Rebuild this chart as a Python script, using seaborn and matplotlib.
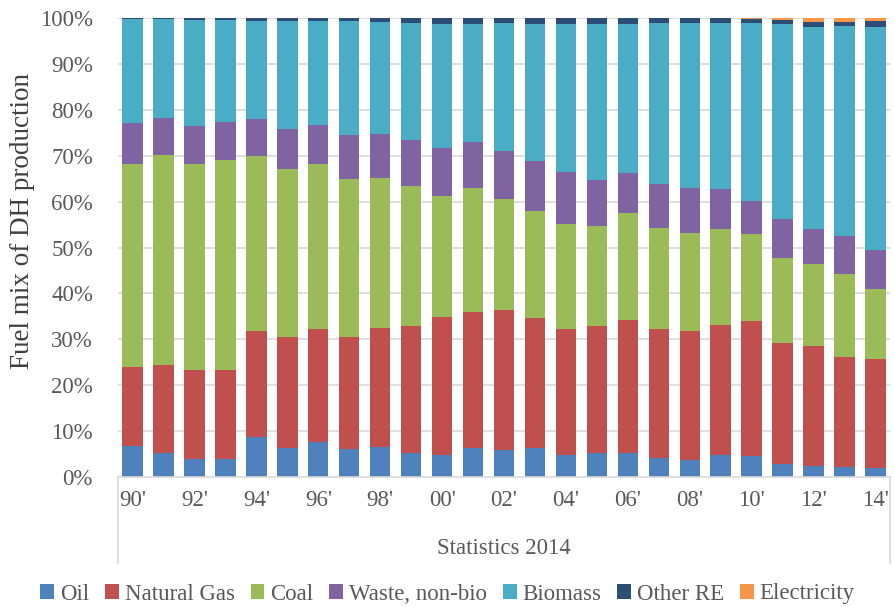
import numpy as np
import pandas as pd
import matplotlib
matplotlib.use("Agg")
import matplotlib.pyplot as plt
import seaborn as sns
from matplotlib.patches import Patch

years = [str(y) for y in range(1990, 2015)]
tick_labels = ["90'", "92'", "94'", "96'", "98'", "00'", "02'", "04'", "06'", "08'", "10'", "12'", "14'"]

oil = [6.7, 5.2, 3.9, 3.9, 8.7, 6.3, 7.6, 6.0, 6.5, 5.2, 4.8, 6.3, 5.8, 6.4, 4.9, 5.2, 5.2, 4.1, 3.8, 4.9, 4.5, 2.8, 2.5, 2.1, 2.0]
natural_gas = [17.3, 19.1, 19.4, 19.5, 23.1, 24.1, 24.7, 24.6, 26.0, 27.6, 30.0, 29.7, 30.5, 28.3, 27.4, 27.8, 29.1, 28.2, 28.1, 28.3, 29.4, 26.3, 26.1, 24.1, 23.6]
coal = [44.2, 45.8, 44.9, 45.7, 38.1, 36.8, 36.0, 34.4, 32.6, 30.6, 26.5, 26.9, 24.3, 23.3, 22.9, 21.6, 23.3, 21.9, 21.2, 20.8, 19.0, 18.6, 17.8, 18.1, 15.3]
waste = [8.9, 8.2, 8.3, 8.2, 8.1, 8.6, 8.3, 9.5, 9.6, 10.0, 10.4, 10.0, 10.5, 10.8, 11.3, 10.2, 8.6, 9.7, 9.8, 8.7, 7.3, 8.5, 7.7, 8.1, 8.6]
biomass = [22.7, 21.4, 23.1, 22.2, 21.4, 23.5, 22.7, 24.8, 24.4, 25.6, 27.1, 25.9, 27.9, 30.0, 32.3, 34.0, 32.6, 35.1, 36.1, 36.3, 38.8, 42.5, 44.0, 45.9, 48.6]
other_re = [0.2, 0.3, 0.4, 0.5, 0.5, 0.6, 0.7, 0.7, 0.9, 1.0, 1.1, 1.2, 1.0, 1.2, 1.1, 1.1, 1.1, 0.9, 0.9, 0.9, 0.8, 0.9, 1.0, 0.9, 1.3]
electricity = [0, 0, 0, 0, 0.1, 0.1, 0, 0, 0, 0, 0.1, 0, 0, 0, 0.1, 0.1, 0.1, 0.1, 0.1, 0.1, 0.2, 0.4, 0.9, 0.8, 0.6]

series = ["Oil", "Natural Gas", "Coal", "Waste, non-bio", "Biomass", "Other RE", "Electricity"]
values = [oil, natural_gas, coal, waste, biomass, other_re, electricity]
colors = ["#4F81BD", "#C0504D", "#9BBB59", "#8064A2", "#4BACC6", "#2C4D75", "#F79646"]

df = pd.DataFrame({name: vals for name, vals in zip(series, values)}, index=years)
cum = df.cumsum(axis=1)

sns.set_style("white")
plt.rcParams["font.family"] = ["Liberation Serif", "DejaVu Serif"]

fig = plt.figure(figsize=(8.95, 6.07), dpi=100)
ax = fig.add_axes([118/895, 1 - 477/607, (890 - 118)/895, (477 - 18)/607])

for yv in np.arange(10, 101, 10):
    ax.axhline(yv, color="#D9D9D9", lw=1.2, zorder=0)

# draw cumulative bars from top series down so they stack
for name, col in reversed(list(zip(series, colors))):
    d = pd.DataFrame({"year": years, "val": cum[name].values})
    sns.barplot(data=d, x="year", y="val", color=col, width=0.66,
                saturation=1, ax=ax, zorder=2, edgecolor="none", linewidth=0)

ax.set_xlim(-0.47, 24.47)
ax.set_ylim(0, 100)
ax.set_yticks(np.arange(0, 101, 10))
ax.set_yticklabels([f"{v}%" for v in range(0, 101, 10)])
ax.set_xticks(range(0, 25, 2))
ax.set_xticklabels(tick_labels)
ax.tick_params(axis="y", length=0, pad=18, labelsize=16.5, labelcolor="#595959")
ax.tick_params(axis="x", length=0, pad=9, labelsize=16.5, labelcolor="#595959")
ax.set_xlabel("")
ax.set_ylabel("Fuel mix of DH production", fontsize=19.5, color="#404040")
ax.yaxis.set_label_coords((35 - 118) / 772, (477 - 221) / 459)

for s in ["top", "right", "left"]:
    ax.spines[s].set_visible(False)
ax.spines["bottom"].set_color("#D9D9D9")
ax.spines["bottom"].set_linewidth(1.2)

ybot = -(563 - 477) / (477 - 18)
for xx in [0, 1]:
    ax.plot([xx, xx], [0, ybot], transform=ax.transAxes, color="#D9D9D9",
            lw=1.2, clip_on=False)
ax.text(0.5, -(548 - 477) / (477 - 18), "Statistics 2014", transform=ax.transAxes,
        ha="center", va="center", fontsize=16.5, color="#595959")

handles = [Patch(facecolor=c, edgecolor="none", label=n) for n, c in zip(series, colors)]
leg = fig.legend(handles=handles, loc="center", bbox_to_anchor=(0.5, 1 - 594/607),
                 ncol=7, frameon=False, fontsize=16.5, handlelength=0.6, handleheight=0.6,
                 handletextpad=0.25, columnspacing=0.7, labelcolor="#595959")

fig.savefig("out.png", dpi=100)
